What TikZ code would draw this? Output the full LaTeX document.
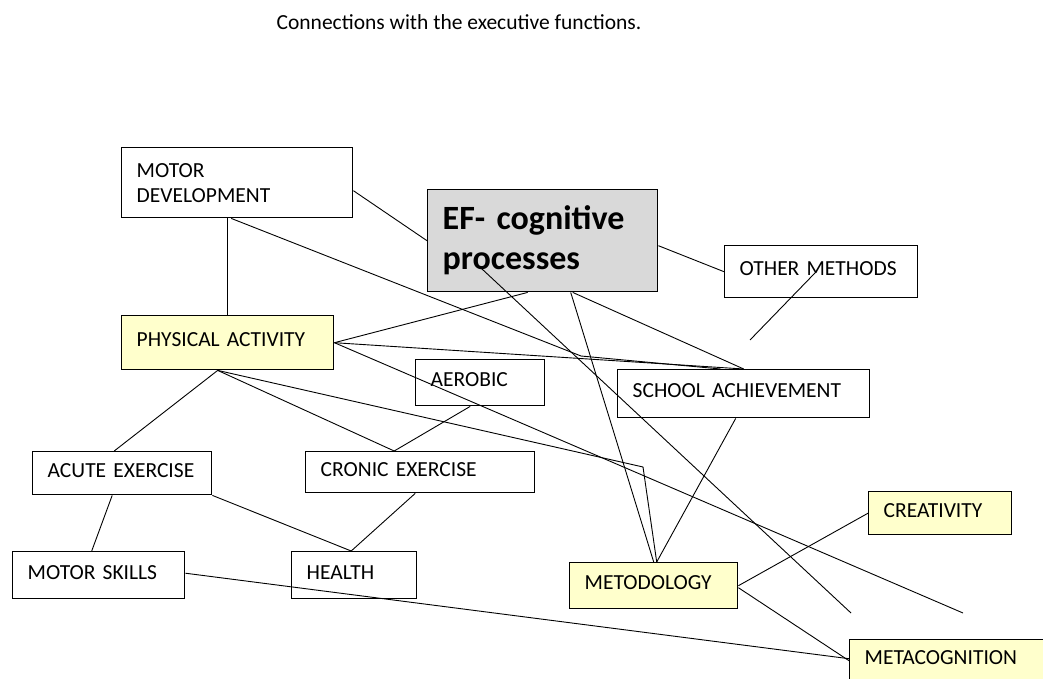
\documentclass[tikz,border=0pt]{standalone}
\usepackage{fontspec}
\setmainfont{Carlito}
\usetikzlibrary{calc}
\definecolor{boxyellow}{HTML}{FFFFCC}
\definecolor{boxgray}{HTML}{D9D9D9}
\newcommand\lblfont{\fontsize{21.5}{25}\selectfont}
\newcommand\effont{\fontsize{34}{40}\selectfont\bfseries}

\begin{document}
\begin{tikzpicture}[x=1pt, y=-1pt,
    box/.style={draw, line width=1.4pt, anchor=north west, fill=white,
                inner xsep=15pt, inner ysep=0pt, align=left, font=\lblfont,
                text depth=6pt},
    link/.style={line width=0.9pt}]
  \clip (0,0) rectangle (1043,679);
  \node[font=\lblfont] (title) at (459,22) {Connections with the executive functions.};

  \node[box, text width=201pt, minimum height=70pt, text depth={}] (md) at (121,147) {MOTOR\\DEVELOPMENT};
  \node[box, fill=boxgray, text width=200pt, minimum height=102pt, font=\effont, text depth={}] (ef) at (427,189) {EF- cognitive\\processes};
  \node[box, text width=163pt, minimum height=52pt] (om) at (724,245) {OTHER METHODS};
  \node[box, fill=boxyellow, text width=182pt, minimum height=54pt] (pa) at (121,315) {PHYSICAL ACTIVITY};
  \node[box, text width=99pt, minimum height=46pt] (aer) at (415,359) {AEROBIC};
  \node[box, text width=222pt, minimum height=48pt] (sa) at (617,369) {SCHOOL ACHIEVEMENT};
  \node[box, text width=149pt, minimum height=43pt] (ae) at (32,451) {ACUTE EXERCISE};
  \node[box, text width=199pt, minimum height=41pt] (ce) at (305,451) {CRONIC EXERCISE};
  \node[box, text width=142pt, minimum height=47pt] (ms) at (12,551) {MOTOR SKILLS};
  \node[box, text width=95pt, minimum height=47pt] (hl) at (291,551) {HEALTH};
  \node[box, fill=boxyellow, text width=138pt, minimum height=46pt] (met) at (569,562) {METODOLOGY};
  \node[box, fill=boxyellow, text width=113pt, minimum height=43pt] (cr) at (868,491) {CREATIVITY};
  \node[box, fill=boxyellow, text width=171pt, minimum height=42pt] (mc) at (849,639) {METACOGNITION};

  \coordinate (bendA) at (581,356);
  \coordinate (bendB) at (643,467);
  \coordinate (endA) at (851,613);
  \coordinate (endB) at (963,613);
  \coordinate (omEnd) at (750,340);

  \draw[link] ([yshift=-8pt]md.east) -- (ef.west);
  \draw[link] (pa.north |- md.south) -- (pa.north);
  \draw[link] ([xshift=-6pt]md.south) -- (bendA) -- ([xshift=-23pt]sa.north);
  \draw[link] ([yshift=-5pt]ef.east) -- (om.west);
  \draw[link] ([xshift=-5pt]om.center) -- (omEnd);
  \draw[link] (pa.east) -- ([xshift=-15pt]ef.south);
  \draw[link] (pa.east) -- (sa.north);
  \draw[link] (pa.east) -- (endB);
  \draw[link] ([xshift=30pt]ef.south) -- (sa.north);
  \draw[link] ([xshift=28pt]ef.south) -- (met.north);
  \draw[link] ([xshift=-61pt,yshift=-28pt]ef.center) -- (endA);
  \draw[link] ([xshift=-10pt]pa.south) -- ([xshift=-8pt]ae.north);
  \draw[link] ([xshift=-10pt]pa.south) -- ([xshift=-26pt]ce.north);
  \draw[link] ([xshift=-10pt]pa.south) -- (bendB) -- ([xshift=3pt]met.north);
  \draw[link] ([xshift=-10pt]aer.south) -- ([xshift=-26pt]ce.north);
  \draw[link] ([xshift=-10pt]ae.south) -- ([xshift=-7pt]ms.north);
  \draw[link] (ae.south east) -- ([xshift=-3pt]hl.north);
  \draw[link] ([xshift=-5pt]ce.south) -- ([xshift=-3pt]hl.north);
  \draw[link] ([xshift=-8pt]sa.south) -- ([xshift=3pt]met.north);
  \draw[link] (met.east) -- (cr.west);
  \draw[link] ([yshift=-2pt]met.east) -- (mc.west);
  \draw[link] ([yshift=2pt]ms.east) -- ([yshift=2pt]mc.west);
\end{tikzpicture}
\end{document}
